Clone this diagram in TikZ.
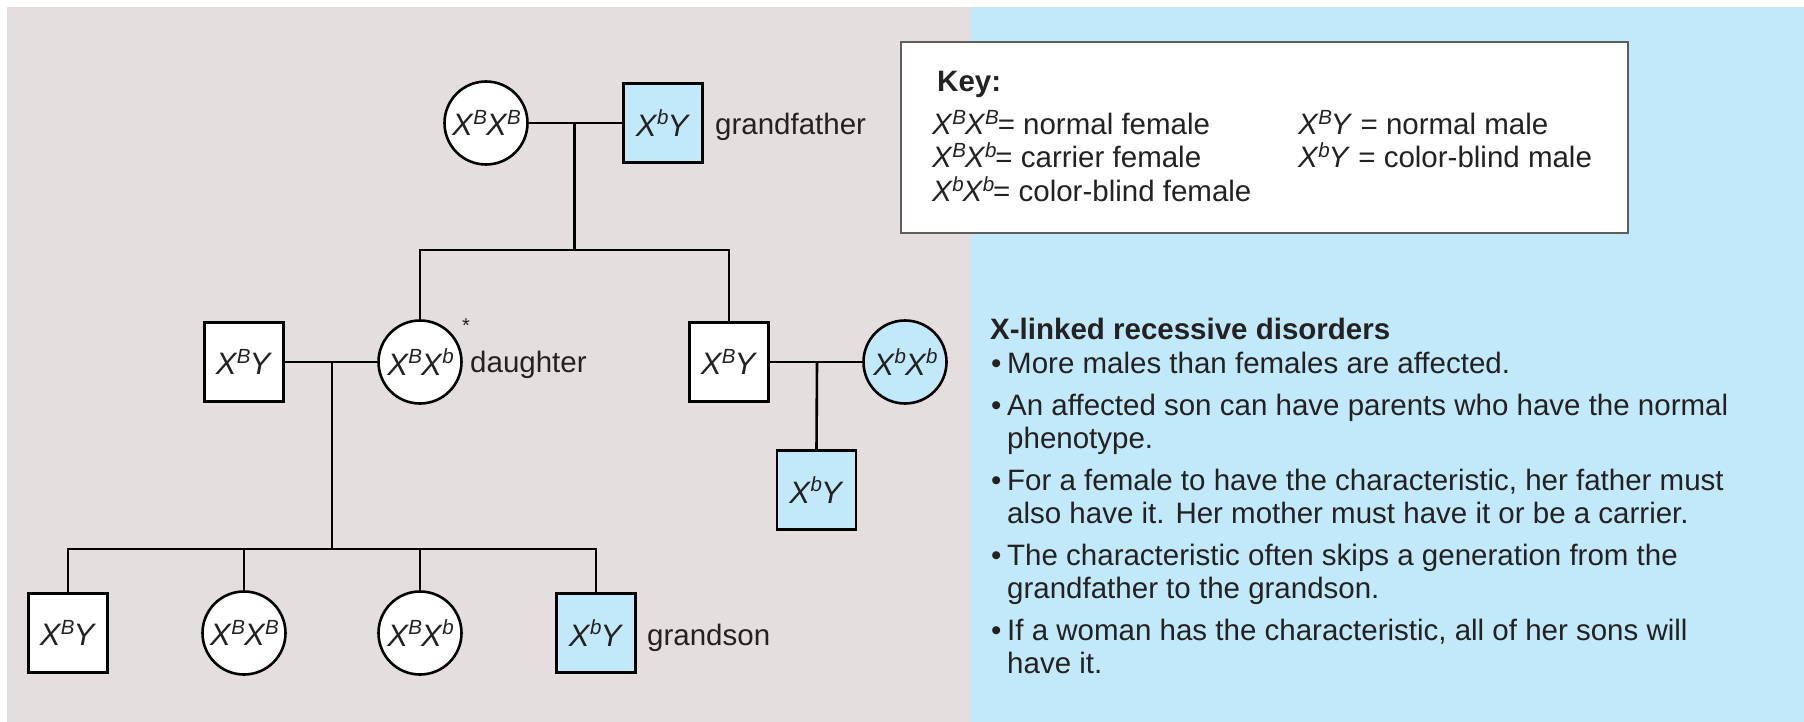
\documentclass[tikz,border=0pt]{standalone}
\usepackage{fontspec}
\setmainfont{Liberation Sans}
\usetikzlibrary{calc}
\definecolor{bggrey}{RGB}{228,223,222}
\definecolor{bgblue}{RGB}{194,233,249}
\definecolor{txt}{RGB}{35,33,34}
\definecolor{keyline}{RGB}{95,95,95}
\newcommand\xs[1]{\textit{X}\kern-0.5pt\raisebox{0.36em}{\fontsize{20.5}{20.5}\selectfont\textit{#1}}\kern-1pt}
\newcommand\yy{\textit{Y}}
\newcommand\lblfont{\fontsize{29.5}{33}\selectfont}
\newcommand\gtfont{\fontsize{31}{31}\selectfont}
\tikzset{
  male/.style={rectangle, draw=black, line width=2.6pt, fill=white, minimum size=79pt, inner sep=0pt, font=\gtfont, text=txt},
  female/.style={circle, draw=black, line width=2.6pt, fill=white, minimum size=83pt, inner sep=0pt, font=\gtfont, text=txt},
  affected/.style={fill=bgblue},
  rel/.style={line width=2.6pt, draw=black},
  lbl/.style={anchor=base west, inner sep=0pt, font=\lblfont, text=txt},
  keybox/.style={rectangle, draw=keyline, line width=2pt, fill=white, inner sep=0pt}
}
\begin{document}
\begin{tikzpicture}[x=1pt,y=-1pt]
\useasboundingbox (0,0) rectangle (1804,722);
\fill[white] (0,0) rectangle (1804,722);
\fill[bggrey] (7,7) rectangle (971,722);
\fill[bgblue] (971,7) rectangle (1804,722);

% generation 1
\node[female] (gm) at (486,123) {\xs{B}\xs{B}};
\node[male, affected] (gf) at (663,123) {\xs{b}\yy};
\node[lbl] (gflbl) at (715,135) {grandfather};

% generation 2
\node[male] (f2) at (244,362) {\xs{B}\yy};
\node[female] (dau) at (420,362) {\xs{B}\xs{b}};
\node[lbl] (daulbl) at (470,372) {daughter};
\node[inner sep=0pt, font=\fontsize{20}{20}\selectfont, text=txt] (star) at (466,326) {*};
\node[male] (uncle) at (729,362) {\xs{B}\yy};
\node[female, affected] (aunt) at (905,362) {\xs{b}\xs{b}};
\node[male, affected] (cousin) at (816.5,490) {\xs{b}\yy};

% generation 3
\node[male] (c1) at (68,633) {\xs{B}\yy};
\node[female] (c2) at (244,633) {\xs{B}\xs{B}};
\node[female] (c3) at (420,633) {\xs{B}\xs{b}};
\node[male, affected] (c4) at (596,633) {\xs{b}\yy};
\node[lbl] (c4lbl) at (647,645) {grandson};

% connectors
\coordinate (m1) at ($(gm)!0.5!(gf)$);
\coordinate (s1) at (574.5,250);
\draw[rel] (gm) -- (gf);
\draw[rel] (m1) -- (s1);
\draw[rel] (dau.north) -- (dau.north |- s1) -- (uncle.north |- s1) -- (uncle.north);

\coordinate (m2) at ($(f2)!0.5!(dau)$);
\coordinate (s2) at (332,549);
\draw[rel] (f2) -- (dau);
\draw[rel] (m2) -- (s2);
\draw[rel] (c1.north) -- (c1.north |- s2) -- (c4.north |- s2) -- (c4.north);
\draw[rel] (c2.north) -- (c2.north |- s2);
\draw[rel] (c3.north) -- (c3.north |- s2);

\coordinate (m3) at ($(uncle)!0.5!(aunt)$);
\draw[rel] (uncle) -- (aunt);
\draw[rel] (m3) -- (cousin.north);

% key
\node[keybox, minimum width=727pt, minimum height=191pt] (key) at (1264.5,137.5) {};
\node[lbl, font=\lblfont\bfseries] (keyt) at (937,92) {Key:};
\node[lbl] (k1) at (932,135) {\xs{B}\xs{B}= normal female};
\node[lbl] (k2) at (932,168) {\xs{B}\xs{b}= carrier female};
\node[lbl] (k3) at (932,202) {\xs{b}\xs{b}= color-blind female};
\node[lbl] (k4) at (1298,135) {\xs{B}\yy{} = normal male};
\node[lbl] (k5) at (1298,168) {\xs{b}\yy{} = color-blind male};

% text
\node[lbl, font=\lblfont\bfseries] (head) at (990,339) {X-linked recessive disorders};
\node[lbl] (b1) at (991,373) {•};
\node[lbl] (t1) at (1007,373) {More males than females are affected.};
\node[lbl] (b2) at (991,415) {•};
\node[lbl] (t2a) at (1007,415) {An affected son can have parents who have the normal};
\node[lbl] (t2b) at (1007,448) {phenotype.};
\node[lbl] (b3) at (991,490) {•};
\node[lbl] (t3a) at (1007,490) {For a female to have the characteristic, her father must};
\node[lbl] (t3b) at (1007,523) {also have it. Her mother must have it or be a carrier.};
\node[lbl] (b4) at (991,565) {•};
\node[lbl] (t4a) at (1007,565) {The characteristic often skips a generation from the};
\node[lbl] (t4b) at (1007,598) {grandfather to the grandson.};
\node[lbl] (b5) at (991,640) {•};
\node[lbl] (t5a) at (1007,640) {If a woman has the characteristic, all of her sons will};
\node[lbl] (t5b) at (1007,673) {have it.};
\end{tikzpicture}
\end{document}
